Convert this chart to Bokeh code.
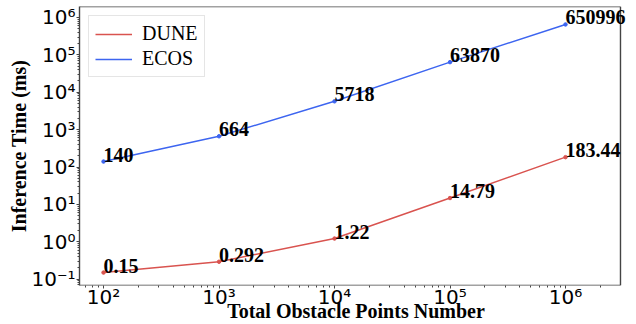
import numpy as np
from bokeh.plotting import figure
from bokeh.models import (ColumnDataSource, LabelSet, CustomJSTickFormatter, Range1d,
                          Legend, LegendItem, FixedTicker)
from bokeh.embed import file_html
from bokeh.resources import INLINE

# Number of obstacle points and inference times (ms)
points = [1e2, 1e3, 1e4, 1e5, 1e6]
dune_ms = [0.15, 0.292, 1.22, 14.79, 183.44]
ecos_ms = [140, 664, 5718, 63870, 650996]
dune_labels = ["0.15", "0.292", "1.22", "14.79", "183.44"]
ecos_labels = ["140", "664", "5718", "63870", "650996"]

DUNE_COLOR = "#d9534f"
ECOS_COLOR = "#3d65f0"
FRAME_COLOR = "#444444"

# axes box spans x in [x_lo, x_hi]; the canvas extends a little further right so
# the last value label is not cut off by the frame
x_lo, x_hi = 10 ** 1.792, 10 ** 6.476
y_lo, y_hi = 10 ** -1.17, 10 ** 6.294

p = figure(width=636, height=324, x_axis_type="log", y_axis_type="log",
           x_range=Range1d(x_lo, 10 ** 6.58),
           y_range=Range1d(y_lo, y_hi),
           output_backend="svg", toolbar_location=None,
           min_border_left=79, min_border_right=4,
           min_border_top=6, min_border_bottom=38)

p.grid.visible = False
p.outline_line_color = None
p.background_fill_color = "white"
p.border_fill_color = "white"

# box edges (top, right, bottom) of the axes area
p.segment(x0=[x_lo, x_hi, x_lo], y0=[y_hi, y_lo, y_lo],
          x1=[x_hi, x_hi, x_hi], y1=[y_hi, y_hi, y_lo],
          line_color=FRAME_COLOR, line_width=1.4)

dune_src = ColumnDataSource(dict(x=points, y=dune_ms, t=dune_labels))
ecos_src = ColumnDataSource(dict(x=points, y=ecos_ms, t=ecos_labels))

dl = p.line("x", "y", source=dune_src, color=DUNE_COLOR, line_width=1.5)
p.scatter("x", "y", source=dune_src, color=DUNE_COLOR, size=3.5)
el = p.line("x", "y", source=ecos_src, color=ECOS_COLOR, line_width=1.5)
p.scatter("x", "y", source=ecos_src, color=ECOS_COLOR, size=3.5)

for src in (dune_src, ecos_src):
    p.add_layout(LabelSet(x="x", y="y", text="t", source=src,
                          text_font="Liberation Serif", text_font_style="bold",
                          text_font_size="20px", text_color="black",
                          text_align="left", text_baseline="alphabetic"))

sup_fmt = CustomJSTickFormatter(code="""
    const sup = {"-": "\u207b", "0": "\u2070", "1": "\u00b9", "2": "\u00b2", "3": "\u00b3",
                 "4": "\u2074", "5": "\u2075", "6": "\u2076", "7": "\u2077", "8": "\u2078", "9": "\u2079"};
    const e = Math.round(Math.log10(tick));
    return "10" + String(e).split("").map(c => sup[c]).join("");
""")

x_minor = [m * 10.0 ** k for k in range(1, 7) for m in range(2, 10)
           if x_lo <= m * 10.0 ** k <= x_hi]
p.xaxis.ticker = FixedTicker(ticks=points, minor_ticks=x_minor)

for ax in (p.xaxis[0], p.yaxis[0]):
    ax.formatter = sup_fmt
    ax.major_label_text_font = "DejaVu Sans"
    ax.major_label_text_font_size = "20px"
    ax.major_label_text_color = "black"
    ax.axis_label_text_font = "Liberation Serif"
    ax.axis_label_text_font_style = "bold"
    ax.axis_label_text_font_size = "20px"
    ax.axis_label_text_color = "black"
    ax.axis_line_color = FRAME_COLOR
    ax.axis_line_width = 1.4
    ax.major_tick_line_color = FRAME_COLOR
    ax.minor_tick_line_color = FRAME_COLOR
    ax.major_tick_out = 3
    ax.major_tick_in = 0
    ax.minor_tick_out = 2
    ax.minor_tick_in = 0
    ax.major_label_standoff = 1

p.xaxis.axis_line_color = None
p.xaxis.major_label_standoff = -4
p.xaxis.axis_label = "Total Obstacle Points Number"
p.yaxis.axis_label = "Inference Time (ms)"
p.xaxis.axis_label_standoff = -12
p.yaxis.axis_label_standoff = -2

legend = Legend(items=[LegendItem(label="DUNE", renderers=[dl]),
                       LegendItem(label="ECOS", renderers=[el])],
                location="top_left")
legend.label_text_font = "Liberation Serif"
legend.label_text_font_size = "20px"
legend.label_text_color = "black"
legend.margin = 9
legend.padding = 6
legend.spacing = 2
legend.glyph_width = 37
legend.glyph_height = 22
legend.label_height = 22
legend.label_standoff = 10
legend.border_line_color = "#cccccc"
legend.border_line_width = 1
legend.background_fill_alpha = 0.8
p.add_layout(legend)

open("out.html", "w").write(file_html(p, INLINE))
